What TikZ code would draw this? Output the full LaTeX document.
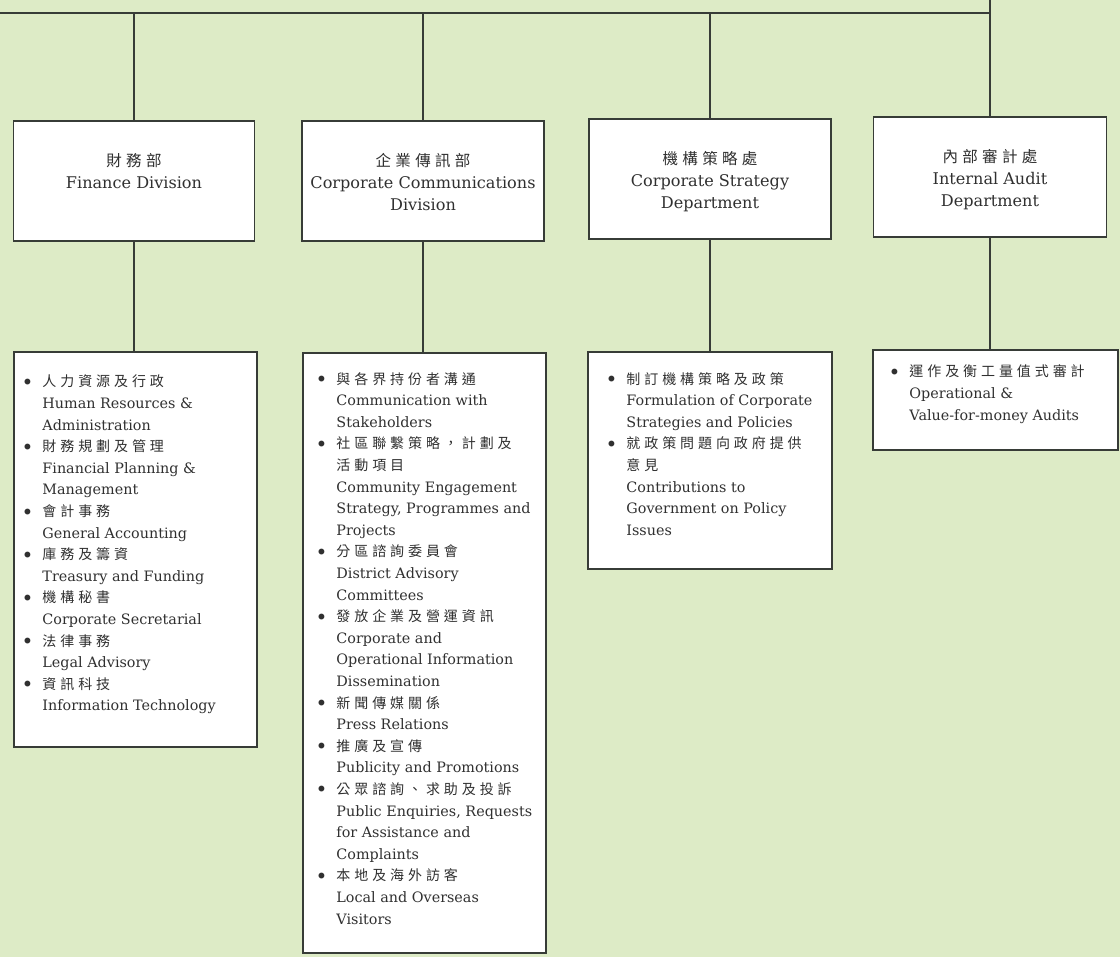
\documentclass[tikz,border=0pt]{standalone}
\usepackage{fontspec}
\usepackage{graphicx}
\setmainfont{DejaVu Serif}
\newfontfamily\cjk[LetterSpace=28]{Noto Sans CJK TC}
\usetikzlibrary{calc}
\definecolor{bg}{RGB}{221,235,198}
\definecolor{ink}{RGB}{48,48,48}
\definecolor{edgec}{RGB}{55,60,55}
\newcommand\zh[1]{{\cjk\fontsize{14}{21.6}\selectfont #1}}
\newcommand\zhh[1]{{\cjk\fontsize{15.5}{22}\selectfont #1}}
\newcommand\bul{\llap{\raisebox{-2.5pt}{\scalebox{1.4}{\textbullet}}\hspace{9pt}}}
\begin{document}
\begin{tikzpicture}[x=1pt,y=-1pt,
  box/.style={draw=edgec, line width=1.5pt, fill=white, inner sep=0pt},
  link/.style={draw=edgec, line width=1.3pt},
  head/.style={anchor=north, align=center, inner sep=0pt, text=ink, font=\fontsize{16.1}{22}\selectfont},
  listtext/.style={anchor=north west, align=left, inner sep=0pt, text=ink, font=\fontsize{14.35}{21.6}\selectfont}]
\useasboundingbox (0,0) rectangle (1120,957);
\fill[bg] (0,0) rectangle (1120,957);

% top-level boxes
\node[box, minimum width=241pt, minimum height=120pt] (fin) at (134,181) {};
\node[box, minimum width=242pt, minimum height=120pt] (cc) at (423,181) {};
\node[box, minimum width=242pt, minimum height=120pt] (cs) at (710,179) {};
\node[box, minimum width=233pt, minimum height=120pt] (ia) at (990,177) {};

\node[head] (finT) at ($(fin.north)+(0,32.5)$) {\zhh{財務部}\\Finance Division};
\node[head] (ccT) at ($(cc.north)+(0,32.5)$) {\zhh{企業傳訊部}\\Corporate Communications\\Division};
\node[head] (csT) at ($(cs.north)+(0,32.5)$) {\zhh{機構策略處}\\Corporate Strategy\\Department};
\node[head] (iaT) at ($(ia.north)+(0,32.5)$) {\zhh{內部審計處}\\Internal Audit\\Department};

% function boxes
\node[box, minimum width=243pt, minimum height=395pt] (finL) at (135.5,549.5) {};
\node[box, minimum width=243pt, minimum height=600pt] (ccL) at (424.5,653) {};
\node[box, minimum width=244pt, minimum height=217pt] (csL) at (710,460.5) {};
\node[box, minimum width=245pt, minimum height=100pt] (iaL) at (995.5,400) {};

\node[listtext] (finX) at ($(finL.north west)+(29,23.7)$) {%
\bul\zh{人力資源及行政}\\Human Resources \&\\Administration\\
\bul\zh{財務規劃及管理}\\Financial Planning \&\\Management\\
\bul\zh{會計事務}\\General Accounting\\
\bul\zh{庫務及籌資}\\Treasury and Funding\\
\bul\zh{機構秘書}\\Corporate Secretarial\\
\bul\zh{法律事務}\\Legal Advisory\\
\bul\zh{資訊科技}\\Information Technology};

\node[listtext] (ccX) at ($(ccL.north west)+(34,19.7)$) {%
\bul\zh{與各界持份者溝通}\\Communication with\\Stakeholders\\
\bul\zh{社區聯繫策略，計劃及}\\\zh{活動項目}\\Community Engagement\\Strategy, Programmes and\\Projects\\
\bul\zh{分區諮詢委員會}\\District Advisory\\Committees\\
\bul\zh{發放企業及營運資訊}\\Corporate and\\Operational Information\\Dissemination\\
\bul\zh{新聞傳媒關係}\\Press Relations\\
\bul\zh{推廣及宣傳}\\Publicity and Promotions\\
\bul\zh{公眾諮詢、求助及投訴}\\Public Enquiries, Requests\\for Assistance and\\Complaints\\
\bul\zh{本地及海外訪客}\\Local and Overseas\\Visitors};

\node[listtext] (csX) at ($(csL.north west)+(39,20.7)$) {%
\bul\zh{制訂機構策略及政策}\\Formulation of Corporate\\Strategies and Policies\\
\bul\zh{就政策問題向政府提供}\\\zh{意見}\\Contributions to\\Government on Policy\\Issues};

\node[listtext] (iaX) at ($(iaL.north west)+(37,15.7)$) {%
\bul\zh{運作及衡工量值式審計}\\Operational \&\\Value-for-money Audits};

% connectors
\coordinate (tl) at (0,13);
\coordinate (tr) at (990,0);
\draw[link] (tl) -- (tl -| ia.north);
\draw[link] (tr) -- (ia.north);
\draw[link] (fin.north) -- (fin.north |- tl);
\draw[link] (cc.north) -- (cc.north |- tl);
\draw[link] (cs.north) -- (cs.north |- tl);
\draw[link] (fin.south) -- (fin.south |- finL.north);
\draw[link] (cc.south) -- (cc.south |- ccL.north);
\draw[link] (cs.south) -- (cs.south |- csL.north);
\draw[link] (ia.south) -- (ia.south |- iaL.north);
\end{tikzpicture}
\end{document}
